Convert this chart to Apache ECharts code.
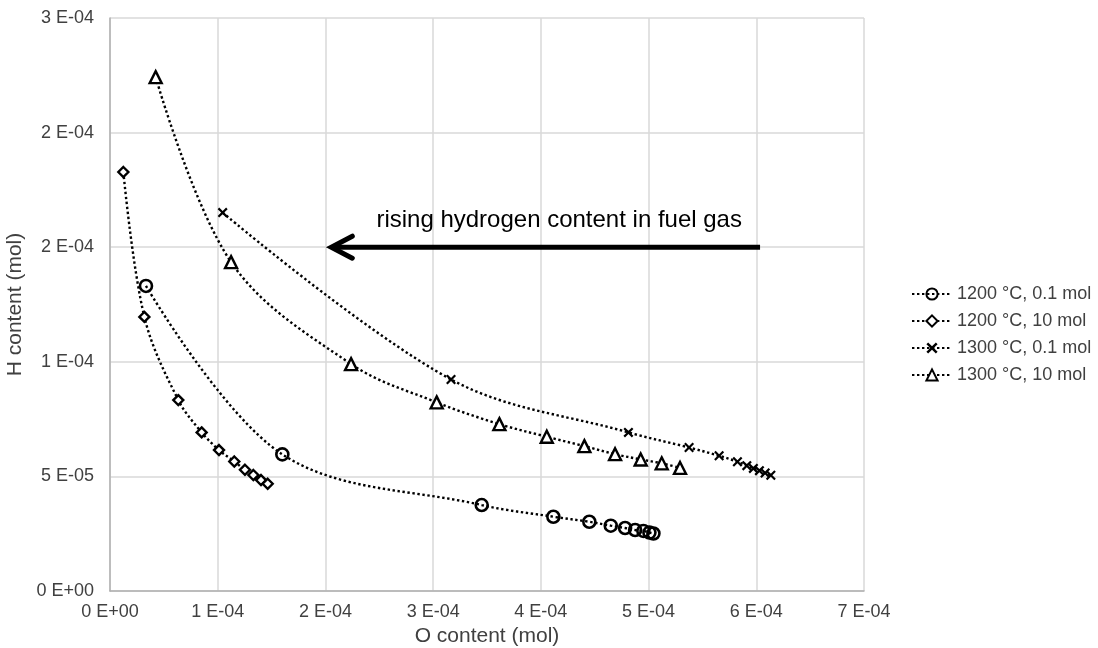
<!DOCTYPE html>
<html>
<head>
<meta charset="utf-8">
<script src="https://cdn.jsdelivr.net/npm/echarts@6/dist/echarts.min.js"></script>
<style>
html,body{margin:0;padding:0;background:#fff;}
#chart{width:1098px;height:648px;}
</style>
</head>
<body>
<div id="chart"></div>
<script>
// ---- data ----
var seriesNames = ['1200 °C, 0.1 mol', '1200 °C, 10 mol', '1300 °C, 0.1 mol', '1300 °C, 10 mol'];

var o1200_01 = [3.34e-5, 1.600e-4, 3.451e-4, 4.116e-4, 4.45e-4, 4.649e-4, 4.782e-4, 4.875e-4, 4.952e-4, 5.008e-4, 5.045e-4];
var h1200_01 = [1.331e-4, 5.96e-5, 3.75e-5, 3.24e-5, 3.02e-5, 2.85e-5, 2.75e-5, 2.66e-5, 2.62e-5, 2.55e-5, 2.51e-5];

var o1200_10 = [1.24e-5, 3.19e-5, 6.34e-5, 8.51e-5, 1.012e-4, 1.154e-4, 1.253e-4, 1.331e-4, 1.402e-4, 1.464e-4];
var h1200_10 = [1.828e-4, 1.196e-4, 8.33e-5, 6.92e-5, 6.15e-5, 5.65e-5, 5.29e-5, 5.06e-5, 4.84e-5, 4.68e-5];

var o1300_01 = [1.046e-4, 3.166e-4, 4.813e-4, 5.376e-4, 5.655e-4, 5.825e-4, 5.912e-4, 5.973e-4, 6.029e-4, 6.082e-4, 6.135e-4];
var h1300_01 = [1.651e-4, 9.23e-5, 6.92e-5, 6.26e-5, 5.90e-5, 5.64e-5, 5.47e-5, 5.35e-5, 5.25e-5, 5.15e-5, 5.05e-5];

var o1300_10 = [4.24e-5, 1.124e-4, 2.238e-4, 3.033e-4, 3.615e-4, 4.055e-4, 4.404e-4, 4.689e-4, 4.927e-4, 5.122e-4, 5.292e-4];
var h1300_10 = [2.242e-4, 1.435e-4, 9.90e-5, 8.23e-5, 7.28e-5, 6.73e-5, 6.32e-5, 5.97e-5, 5.74e-5, 5.57e-5, 5.37e-5];

// axis ranges
var xMin = 0, xMax = 7e-4, xStep = 1e-4;
var yMin = 0, yMax = 2.5e-4, yStep = 5e-5;

// annotation (data coordinates)
var annotText = 'rising hydrogen content in fuel gas';
var annotTextPos = [4.17e-4, 1.617e-4];
var arrowFrom = [6.035e-4, 1.5e-4];
var arrowTo = [2.036e-4, 1.5e-4];

// ---- helpers ----
function sciFmt(v) {
  if (Math.abs(v) < 1e-15) return '0 E+00';
  var e = Math.floor(Math.log10(Math.abs(v)) + 1e-9);
  var m = Math.round(parseFloat((v / Math.pow(10, e)).toFixed(6)));
  if (m >= 10) { m = m / 10; e += 1; }
  var sign = e < 0 ? '-' : '+';
  var ae = Math.abs(e);
  return m + ' E' + sign + (ae < 10 ? '0' + ae : ae);
}
function pairs(xs, ys) { return xs.map(function (x, i) { return [x, ys[i]]; }); }

var xMarker = 'path://M0,1.55L1.55,0L5,3.45L8.45,0L10,1.55L6.55,5L10,8.45L8.45,10L5,6.55L1.55,10L0,8.45L3.45,5Z';

var FONT = '"Liberation Sans", Arial, sans-serif';

function mkSeries(name, xs, ys, symbol, size, fill, bw) {
  return {
    name: name,
    type: 'line',
    smooth: 0.35,
    data: pairs(xs, ys),
    symbol: symbol,
    symbolSize: size,
    showAllSymbol: true,
    lineStyle: { color: '#000', width: 2.4, type: [2.4, 2.6] },
    itemStyle: { color: fill, borderColor: '#000', borderWidth: bw },
    emphasis: { disabled: true },
    z: 3
  };
}

var chart = echarts.init(document.getElementById('chart'), null, { renderer: 'canvas' });

var option = {
  animation: false,
  backgroundColor: '#fff',
  textStyle: { fontFamily: FONT },
  grid: { left: 110, right: 234, top: 18, bottom: 57, containLabel: false, outerBoundsMode: 'none' },
  xAxis: {
    type: 'value', min: xMin, max: xMax, interval: xStep,
    name: 'O content (mol)', nameLocation: 'middle', nameGap: 34,
    nameTextStyle: { fontSize: 21, color: '#404040', fontFamily: FONT },
    axisLine: { show: true, lineStyle: { color: '#b0b0b0', width: 1.5 } },
    axisTick: { show: false },
    axisLabel: { formatter: sciFmt, fontSize: 18, color: '#404040', margin: 12, fontFamily: FONT },
    splitLine: { show: true, lineStyle: { color: '#d9d9d9', width: 1.5 } }
  },
  yAxis: {
    type: 'value', min: yMin, max: yMax, interval: yStep,
    name: 'H content (mol)', nameLocation: 'middle', nameGap: 79,
    nameTextStyle: { fontSize: 21, color: '#404040', fontFamily: FONT },
    axisLine: { show: true, lineStyle: { color: '#b0b0b0', width: 1.5 } },
    axisTick: { show: false },
    axisLabel: { formatter: sciFmt, fontSize: 18, color: '#404040', margin: 16, fontFamily: FONT },
    splitLine: { show: true, lineStyle: { color: '#d9d9d9', width: 1.5 } }
  },
  legend: {
    orient: 'vertical', left: 911, top: 285, padding: 0,
    itemWidth: 40, itemHeight: 14, itemGap: 9,
    textStyle: { fontSize: 18, color: '#404040', fontFamily: FONT },
    data: seriesNames
  },
  series: [
    mkSeries(seriesNames[0], o1200_01, h1200_01, 'circle', 12, 'rgba(255,255,255,0)', 2.6),
    mkSeries(seriesNames[1], o1200_10, h1200_10, 'diamond', 10, '#fff', 2.4),
    mkSeries(seriesNames[2], o1300_01, h1300_01, xMarker, 10, '#000', 0),
    mkSeries(seriesNames[3], o1300_10, h1300_10, 'triangle', 12, '#fff', 2.4)
  ]
};
chart.setOption(option);

// annotation arrow + text, placed from data coordinates
var pFrom = chart.convertToPixel({ gridIndex: 0 }, arrowFrom);
var pTo = chart.convertToPixel({ gridIndex: 0 }, arrowTo);
var pTxt = chart.convertToPixel({ gridIndex: 0 }, annotTextPos);
chart.setOption({
  graphic: [
    {
      type: 'line', z: 10,
      shape: { x1: pFrom[0], y1: pFrom[1], x2: pTo[0] + 3, y2: pTo[1] },
      style: { stroke: '#000', lineWidth: 5, lineCap: 'butt' }
    },
    {
      type: 'polyline', z: 10,
      shape: { points: [[pTo[0] + 23, pTo[1] - 11], [pTo[0] + 2, pTo[1]], [pTo[0] + 23, pTo[1] + 11]] },
      style: { stroke: '#000', fill: null, lineWidth: 5, lineCap: 'round', lineJoin: 'miter' }
    },
    {
      type: 'text', z: 10, x: pTxt[0], y: pTxt[1],
      style: { text: annotText, font: '24px ' + FONT, fill: '#000', align: 'center', verticalAlign: 'middle' }
    }
  ]
});
</script>
</body>
</html>
